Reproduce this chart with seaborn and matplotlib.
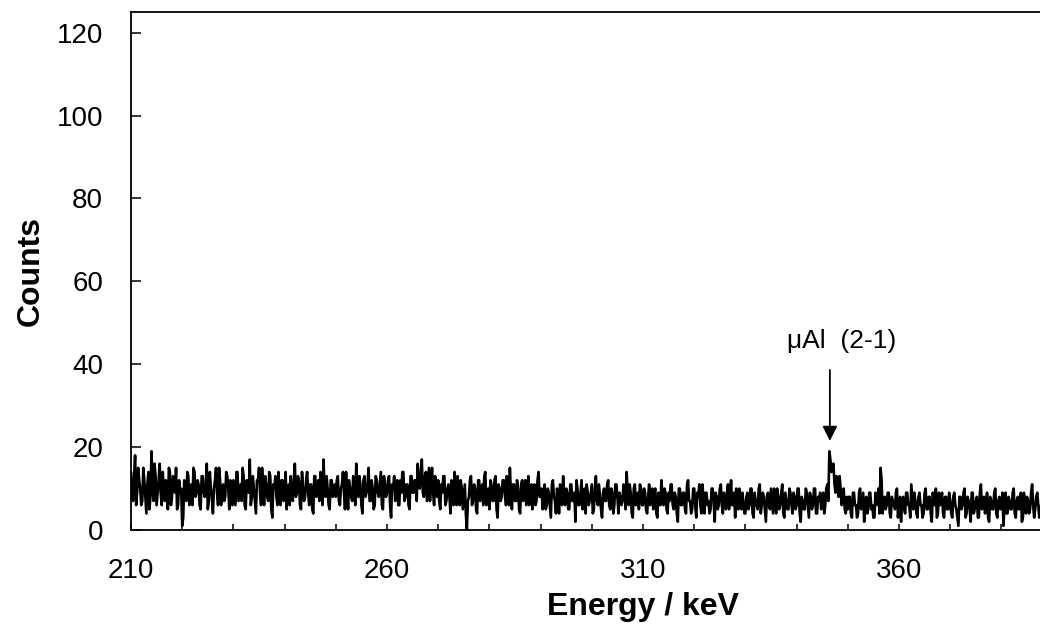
import numpy as np
import pandas as pd
import matplotlib
matplotlib.use("Agg")
import matplotlib.pyplot as plt
from matplotlib.ticker import FixedLocator
import seaborn as sns

# Gamma/X-ray spectrum with 0.2 keV channels starting at 210 keV.
# "even" lists hold channels at 210.0, 210.4, ...; "odd" lists hold
# the channels in between (210.2, 210.6, ...).
energy_start_kev = 210.0
channel_width_kev = 0.2

even_210_230 = [14, 7, 18, 9, 12, 6, 15, 8, 11, 5,
                19, 7, 13, 9, 16, 6, 10, 12, 5, 14,
                8, 11, 15, 6, 9, 1, 12, 7, 13, 10,
                6, 14, 9, 11, 5, 13, 8, 16, 7, 10,
                4, 12, 9, 15, 6, 11, 8, 13, 5, 10]
even_230_250 = [12, 6, 14, 9, 7, 13, 5, 11, 17, 8,
                10, 4, 12, 9, 15, 6, 11, 7, 13, 3,
                10, 8, 14, 6, 12, 9, 5, 11, 13, 7,
                16, 9, 12, 5, 10, 8, 14, 6, 11, 4,
                13, 9, 7, 12, 17, 8, 10, 5, 12, 9]
even_250_270 = [8, 13, 6, 11, 9, 14, 5, 10, 7, 12,
                16, 8, 11, 4, 13, 9, 15, 7, 10, 6,
                12, 8, 14, 5, 11, 9, 13, 3, 10, 7,
                12, 6, 9, 14, 8, 11, 5, 13, 9, 12,
                16, 10, 17, 8, 14, 11, 7, 15, 6, 10]
even_270_290 = [12, 5, 9, 13, 7, 11, 4, 10, 14, 6,
                9, 12, 5, 11, 0, 8, 13, 7, 10, 4,
                12, 8, 6, 14, 9, 5, 11, 7, 13, 3,
                10, 8, 12, 6, 9, 15, 5, 11, 7, 10,
                4, 12, 8, 6, 13, 9, 5, 11, 7, 14]
even_290_310 = [8, 5, 11, 6, 9, 3, 12, 7, 10, 4,
                8, 13, 6, 9, 5, 11, 7, 2, 10, 6,
                12, 8, 4, 9, 7, 11, 5, 13, 6, 8,
                3, 10, 7, 12, 5, 9, 6, 11, 4, 8,
                7, 10, 14, 6, 9, 3, 11, 7, 5, 10]
even_310_330 = [6, 9, 4, 11, 7, 5, 10, 3, 8, 12,
                6, 9, 4, 7, 11, 5, 8, 2, 10, 6,
                9, 4, 12, 7, 5, 10, 3, 8, 6, 11,
                4, 9, 7, 5, 10, 2, 8, 6, 11, 4,
                7, 9, 5, 12, 6, 3, 8, 10, 5, 7]
even_330_350 = [4, 9, 6, 10, 3, 7, 5, 11, 6, 8,
                2, 9, 5, 7, 10, 4, 8, 6, 11, 3,
                7, 5, 9, 4, 8, 6, 10, 2, 7, 5,
                9, 3, 8, 6, 10, 4, 7, 5, 9, 6,
                11, 19, 14, 16, 9, 12, 13, 6, 10, 4]
even_350_370 = [5, 8, 3, 9, 6, 4, 10, 7, 2, 8,
                5, 9, 6, 3, 7, 10, 15, 4, 8, 6,
                9, 3, 7, 5, 10, 6, 2, 8, 4, 9,
                6, 11, 5, 7, 3, 9, 6, 4, 10, 5,
                8, 2, 7, 10, 4, 6, 9, 3, 8, 5]
even_370_390 = [7, 3, 9, 5, 1, 8, 6, 10, 4, 7,
                2, 9, 5, 8, 3, 11, 6, 4, 9, 2,
                7, 5, 10, 3, 8, 6, 1, 9, 4, 7,
                5, 10, 3, 8, 6, 2, 9, 4, 7, 5,
                11, 3, 8, 6, 4, 9, 5]

odd_210_230 = [9, 13, 6, 15, 10, 7, 12, 4, 14, 8,
               11, 16, 6, 12, 9, 14, 7, 11, 15, 6,
               13, 9, 5, 12, 10, 3, 9, 14, 6, 11,
               15, 8, 12, 6, 13, 9, 11, 5, 14, 8,
               10, 15, 6, 12, 9, 7, 14, 10, 12, 6]
odd_230_250 = [9, 14, 7, 11, 15, 6, 12, 9, 6, 13,
               7, 12, 15, 6, 10, 13, 8, 14, 5, 11,
               13, 6, 9, 12, 7, 14, 10, 6, 9, 12,
               8, 13, 6, 14, 7, 12, 9, 11, 5, 13,
               8, 12, 14, 6, 10, 13, 6, 12, 8, 11]
odd_250_270 = [12, 7, 10, 14, 5, 9, 12, 8, 13, 6,
               10, 13, 6, 12, 8, 11, 7, 12, 5, 13,
               9, 11, 6, 13, 8, 12, 6, 11, 13, 9,
               6, 12, 14, 7, 11, 6, 13, 9, 12, 7,
               11, 14, 9, 13, 7, 15, 12, 9, 13, 8]
odd_270_290 = [7, 11, 13, 6, 10, 8, 12, 6, 9, 13,
               6, 10, 8, 4, 7, 12, 6, 11, 5, 12,
               7, 11, 13, 6, 10, 12, 7, 12, 5, 11,
               7, 12, 9, 13, 6, 9, 11, 7, 12, 5,
               11, 7, 12, 10, 6, 11, 9, 6, 12, 8]
odd_290_310 = [10, 7, 5, 10, 6, 11, 8, 4, 9, 11,
               6, 8, 10, 5, 11, 7, 9, 12, 6, 9,
               5, 10, 11, 6, 9, 4, 10, 7, 11, 5,
               9, 7, 11, 6, 10, 4, 11, 8, 9, 6,
               11, 5, 9, 11, 4, 10, 6, 9, 11, 6]
odd_310_330 = [10, 5, 8, 6, 10, 9, 4, 9, 6, 8,
               10, 5, 9, 11, 6, 9, 4, 10, 6, 9,
               5, 11, 7, 4, 10, 6, 9, 11, 4, 8,
               9, 6, 4, 10, 7, 9, 5, 10, 6, 9,
               5, 11, 8, 6, 9, 10, 5, 7, 9, 4]
odd_330_350 = [8, 5, 10, 4, 9, 6, 10, 4, 9, 5,
               8, 6, 10, 4, 8, 10, 5, 9, 4, 9,
               5, 10, 6, 9, 5, 10, 4, 8, 5, 10,
               6, 9, 5, 10, 4, 8, 9, 6, 4, 10,
               7, 17, 15, 11, 13, 8, 10, 9, 5, 8]
odd_350_370 = [8, 4, 9, 6, 3, 9, 5, 9, 6, 4,
               9, 5, 3, 9, 6, 4, 12, 7, 5, 9,
               4, 8, 6, 9, 3, 8, 7, 5, 9, 6,
               3, 8, 9, 4, 8, 6, 3, 9, 5, 8,
               4, 9, 6, 3, 9, 7, 4, 8, 5, 9]
odd_370_390 = [4, 8, 6, 3, 8, 5, 9, 3, 8, 5,
               9, 4, 7, 3, 9, 5, 8, 6, 3, 8,
               5, 9, 4, 7, 5, 9, 6, 4, 8, 5,
               9, 4, 7, 5, 9, 3, 6, 8, 4, 9,
               6, 5, 9, 3, 7, 4, 8]

# Peak annotation
peak_label = "μAl  (2-1)"
peak_energy_kev = 346.5
arrow_top_counts = 38.6
arrow_tip_counts = 21.5

x_tick_labels = [210, 260, 310, 360]
y_ticks = [0, 20, 40, 60, 80, 100, 120]

even = (even_210_230 + even_230_250 + even_250_270 + even_270_290
        + even_290_310 + even_310_330 + even_330_350 + even_350_370
        + even_370_390)
odd = (odd_210_230 + odd_230_250 + odd_250_270 + odd_270_290
       + odd_290_310 + odd_310_330 + odd_330_350 + odd_350_370
       + odd_370_390)
counts = np.empty(len(even) + len(odd))
counts[0::2] = even
counts[1::2] = odd
energy = energy_start_kev + channel_width_kev * np.arange(len(counts))
spectrum = pd.DataFrame({"Energy": energy, "Counts": counts})

sns.set_theme(style="white")
plt.rcParams["font.family"] = ["Liberation Sans", "DejaVu Sans"]
plt.rcParams["text.color"] = "black"
plt.rcParams["axes.labelcolor"] = "black"
plt.rcParams["xtick.color"] = "black"
plt.rcParams["ytick.color"] = "black"

W, H = 1040, 633
fig = plt.figure(figsize=(W / 100, H / 100), dpi=100)
# The energy axis runs to 410 keV; the figure shows its left part.
ax_left, ax_right, ax_top, ax_bottom = 131, 131 + 200 * 5.12, 12, 530
ax = fig.add_axes([ax_left / W, 1 - ax_bottom / H,
                   (ax_right - ax_left) / W, (ax_bottom - ax_top) / H])

sns.lineplot(data=spectrum, x="Energy", y="Counts", color="black",
             linewidth=1.9, estimator=None, ax=ax)

ax.set_xlim(210, 410)
ax.set_ylim(0, 125)

for side in ax.spines:
    ax.spines[side].set_visible(True)
    ax.spines[side].set_color("black")
    ax.spines[side].set_linewidth(1.3)

ax.xaxis.set_major_locator(FixedLocator(x_tick_labels))
ax.xaxis.set_minor_locator(FixedLocator(list(range(220, 410, 10))))
ax.set_xticklabels([str(v) for v in x_tick_labels])
ax.set_yticks(y_ticks)
ax.set_yticklabels([str(v) for v in y_ticks])

ax.tick_params(axis="x", which="both", direction="in", length=4.5, width=1.1,
               color="black", labelcolor="black", bottom=True, top=False,
               labelsize=20, pad=20)
ax.tick_params(axis="y", which="both", direction="in", length=7.5, width=1.1,
               color="black", labelcolor="black", left=True, right=False,
               labelsize=20, pad=20)

ax.set_xlabel("Energy / keV", fontsize=23, fontweight="bold", labelpad=6,
              color="black")
ax.set_ylabel("Counts", fontsize=23, fontweight="bold", labelpad=8,
              color="black")

ax.annotate("", xy=(peak_energy_kev, arrow_tip_counts),
            xytext=(peak_energy_kev, arrow_top_counts),
            arrowprops=dict(arrowstyle="-|>", color="black", lw=1.3,
                            mutation_scale=22, shrinkA=0, shrinkB=0))
ax.text(peak_energy_kev + 2.3, arrow_top_counts + 4, peak_label,
        ha="center", va="bottom", fontsize=19, color="black")

fig.savefig("out.png", dpi=100, facecolor="white")
